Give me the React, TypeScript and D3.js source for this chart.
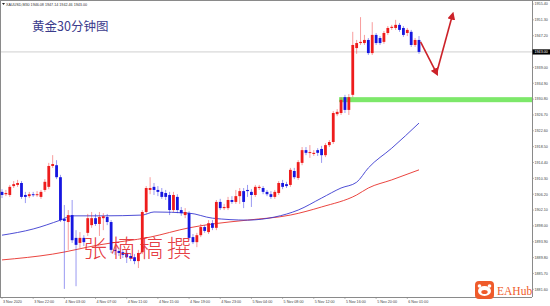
import React from 'react';
import * as d3 from 'd3';

const W = 550;
const H = 306;

// OHLC of XAUUSD M30 bars
const opens = [1906.8,1906.2,1906.0,1908.3,1908.6,1909.1,1906.0,1905.7,1906.2,1906.0,1905.5,1907.3,1908.1,1913.5,1913.7,1910.6,1899.8,1899.0,1900.8,1894.9,1893.6,1894.9,1896.2,1898.2,1900.0,1898.5,1900.0,1900.3,1899.0,1891.8,1891.5,1891.2,1891.0,1890.2,1889.9,1888.9,1891.2,1901.6,1907.3,1908.1,1907.3,1906.8,1906.5,1906.0,1902.1,1905.5,1902.1,1900.8,1901.3,1895.1,1893.8,1895.6,1897.7,1896.4,1898.7,1897.5,1904.2,1902.6,1902.6,1904.7,1904.2,1905.7,1907.0,1907.3,1906.8,1906.0,1907.8,1907.8,1906.8,1906.2,1905.5,1906.5,1909.1,1908.8,1908.6,1912.2,1910.4,1914.3,1917.6,1916.9,1916.6,1917.6,1917.9,1916.3,1918.9,1919.7,1926.9,1927.2,1931.3,1928.0,1931.9,1944.0,1945.3,1945.3,1946.1,1942.7,1947.4,1946.6,1945.6,1947.9,1949.2,1949.2,1950.0,1949.2,1947.9,1948.2,1944.8,1946.1];
const highs = [1907.5,1907.3,1908.6,1909.6,1909.9,1909.6,1906.8,1906.8,1906.8,1907.0,1907.3,1910.1,1914.3,1916.3,1915.0,1911.2,1903.4,1902.1,1904.7,1896.9,1896.4,1895.6,1901.1,1901.6,1901.1,1901.6,1901.3,1901.1,1899.5,1892.5,1892.3,1892.0,1891.8,1891.0,1890.7,1891.8,1902.1,1908.3,1910.6,1909.1,1908.3,1907.8,1907.3,1906.8,1906.8,1906.2,1902.9,1902.6,1901.8,1895.9,1896.2,1898.5,1898.2,1899.5,1899.5,1904.7,1905.0,1903.7,1905.5,1905.7,1907.3,1907.8,1907.8,1908.6,1907.5,1908.6,1908.6,1908.3,1907.3,1907.0,1907.3,1909.6,1909.9,1909.4,1913.0,1913.0,1915.0,1918.4,1918.4,1918.9,1917.6,1918.1,1918.7,1919.4,1920.2,1927.7,1928.2,1931.3,1931.9,1932.1,1948.2,1946.1,1952.0,1947.4,1946.6,1950.7,1947.9,1947.1,1948.4,1949.7,1950.0,1951.3,1950.5,1949.7,1949.2,1948.7,1946.6,1947.1];
const lows = [1905.2,1905.7,1905.5,1907.8,1908.1,1905.0,1903.9,1905.2,1905.5,1905.5,1905.0,1906.8,1907.5,1913.0,1910.1,1899.0,1881.7,1891.8,1893.6,1882.4,1892.3,1892.8,1895.4,1897.5,1898.0,1895.4,1896.9,1898.2,1891.0,1890.5,1890.2,1889.7,1888.4,1888.9,1888.1,1887.1,1890.7,1901.1,1906.2,1906.0,1905.7,1905.0,1904.7,1900.8,1901.6,1901.3,1900.6,1900.0,1894.3,1893.3,1892.5,1895.1,1896.2,1895.9,1896.9,1896.9,1902.1,1902.1,1902.1,1903.7,1903.7,1903.7,1902.6,1905.5,1902.9,1905.5,1907.3,1906.2,1905.7,1905.0,1905.0,1906.0,1907.5,1907.8,1908.1,1910.1,1909.9,1913.7,1916.3,1915.6,1916.1,1916.1,1914.3,1915.8,1918.4,1919.2,1926.4,1926.7,1927.2,1926.7,1931.3,1942.5,1944.8,1944.8,1942.2,1942.2,1944.8,1944.8,1945.1,1947.4,1948.7,1948.7,1948.2,1946.9,1947.1,1944.3,1944.3,1942.5];
const closes = [1906.0,1906.5,1908.1,1908.8,1909.1,1905.5,1905.5,1906.2,1906.0,1906.2,1906.8,1909.4,1913.5,1914.0,1910.6,1899.5,1899.3,1900.8,1894.3,1893.1,1894.9,1893.8,1900.0,1900.0,1898.5,1900.3,1900.5,1899.0,1891.8,1891.5,1891.0,1890.5,1889.9,1889.7,1888.9,1891.0,1901.6,1907.8,1907.8,1907.3,1906.8,1905.5,1905.5,1902.1,1906.0,1902.1,1901.3,1901.6,1894.9,1893.8,1895.6,1897.7,1896.7,1898.7,1897.5,1904.2,1902.6,1902.9,1904.7,1904.2,1905.7,1907.0,1904.2,1907.0,1906.0,1908.1,1908.1,1906.8,1906.2,1905.5,1906.8,1909.1,1908.1,1908.3,1912.5,1910.6,1914.5,1917.6,1916.9,1917.1,1916.9,1916.9,1916.3,1918.9,1919.7,1927.2,1927.5,1930.6,1928.0,1931.3,1944.8,1945.3,1945.6,1946.1,1942.7,1947.4,1945.3,1945.3,1947.9,1949.2,1949.5,1950.0,1948.7,1947.4,1948.7,1944.8,1946.1,1943.0];

// moving averages (read at selected bars)
const blueMaBars = [0, 8, 15, 18, 26, 36, 39, 48, 54, 63, 70, 76, 82, 87, 91, 94, 100, 107];
const blueMaVals = [1895.6, 1897.2, 1899.5, 1900.6, 1900.6, 1900.8, 1901.6, 1901.3, 1900.0, 1899.5, 1900.3, 1902.1, 1905.2, 1907.8, 1909.3, 1913.0, 1918.1, 1924.6];
const redMaBars = [0, 13, 25, 38, 48, 54, 63, 74, 82, 91, 94, 100, 107];
const redMaVals = [1889.2, 1890.7, 1893.1, 1895.1, 1897.5, 1898.5, 1899.5, 1900.8, 1902.9, 1906.0, 1907.8, 1909.9, 1912.5];

const priceTicks = [1955.40, 1951.30, 1947.20, 1943.10, 1939.00, 1934.90, 1930.80, 1926.70, 1922.60, 1918.50, 1914.40, 1910.30, 1906.20, 1902.10, 1898.00, 1893.90, 1889.80, 1885.70, 1881.60];
const timeLabelBars = [0, 8, 16, 24, 32, 40, 48, 56, 64, 72, 80, 88, 96, 104];
const timeLabels = ['3 Nov 2020', '3 Nov 22:00', '4 Nov 03:00', '4 Nov 07:00', '4 Nov 11:00', '4 Nov 15:00', '4 Nov 19:00', '4 Nov 23:00', '5 Nov 04:00', '5 Nov 08:00', '5 Nov 12:00', '5 Nov 16:00', '5 Nov 20:00', '6 Nov 01:00'];

// annotations
const zoneLow = 1930.0;
const zoneHigh = 1931.3;
const zoneStartBar = 86.5;
const arrowBars = [107.4, 111.5, 115.6];
const arrowPrices = [1945.6, 1937.5, 1952.6];

const title = '黄金30分钟图';
const watermark = '张楠稿撰';
const header = 'XAUUSD,M30  1946.08 1947.14 1942.46 1943.00';

const PLOT_R = 532;
const PLOT_B = 297;

export default function App() {
  const n = closes.length;
  const x = d3.scaleLinear().domain([0, n - 1]).range([2, 419]);
  const y = d3.scaleLinear().domain([1881.6, 1955.4]).range([289.3, 4]);
  const bull = '#ee1c1c';
  const bear = '#1616e0';
  const lineGen = d3.line<[number, number]>().x(d => x(d[0])).y(d => y(d[1])).curve(d3.curveMonotoneX);
  const blueLine = lineGen(blueMaBars.map((b, i) => [b, blueMaVals[i]]));
  const redLine = lineGen(redMaBars.map((b, i) => [b, redMaVals[i]]));
  const last = closes[n - 1];
  const arrowPts = arrowBars.map((b, i) => [x(b), y(arrowPrices[i])] as [number, number]);
  const fmt = d3.format('.2f');
  const small = { fontFamily: 'Liberation Sans, Arial, sans-serif', fontSize: 3.7 };

  return (
    <svg width={W} height={H} style={{ position: 'absolute', left: 0, top: 0, background: '#fff' }}>
      <defs>
        <marker id="ah" viewBox="0 0 10 10" refX="6" refY="5" markerWidth="5" markerHeight="5" orient="auto">
          <path d="M0,0 L10,5 L0,10 z" fill="#cc2229" />
        </marker>
      </defs>
      <rect x={0} y={0} width={W} height={H} fill="#fff" />
      {/* frame */}
      <line x1={0} x2={W} y1={0.5} y2={0.5} stroke="#8a8a8a" />
      <line x1={0.5} x2={0.5} y1={0} y2={PLOT_B} stroke="#8a8a8a" />
      {/* header */}
      <path d="M2,3 L5,3 L3.5,5 z" fill="#222" />
      <text x={6} y={5.5} {...small} fill="#333">{header}</text>
      {/* title */}
      <text x={32} y={31} fontFamily="Noto Sans CJK SC" fontSize={12.5} fill="#3b3b8c">{title}</text>
      {/* current price line */}
      <line x1={1} x2={PLOT_R} y1={y(last)} y2={y(last)} stroke="#cfcfcf" strokeWidth={1} />
      {/* support zone */}
      <rect x={x(zoneStartBar)} y={y(zoneHigh)} width={PLOT_R - x(zoneStartBar)} height={y(zoneLow) - y(zoneHigh)} fill="#7de86a" />
      {/* moving averages */}
      <path d={redLine || ''} fill="none" stroke="#e8302a" strokeWidth={0.9} />
      <path d={blueLine || ''} fill="none" stroke="#3a3ad0" strokeWidth={0.9} />
      {/* candles */}
      {closes.map((c, i) => {
        const o = opens[i];
        const up = c >= o;
        const col = up ? bull : bear;
        const top = y(Math.max(o, c));
        const bot = y(Math.min(o, c));
        return (
          <g key={i}>
            <line x1={x(i)} x2={x(i)} y1={y(highs[i])} y2={y(lows[i])} stroke={col} strokeOpacity={0.55} strokeWidth={0.8} />
            <rect x={x(i) - 1.4} y={top} width={2.8} height={Math.max(bot - top, 1)} fill={col} />
          </g>
        );
      })}
      {/* watermark */}
      <text x={83} y={257} fontFamily="Noto Sans CJK SC" fontWeight={300} fontSize={24} letterSpacing={4} fill="#e3262b" fillOpacity={0.9}>{watermark}</text>
      {/* arrows */}
      <path d={d3.line()(arrowPts.slice(0, 2)) || ''} fill="none" stroke="#cc2229" strokeWidth={1.6} markerEnd="url(#ah)" />
      <path d={d3.line()(arrowPts.slice(1, 3)) || ''} fill="none" stroke="#cc2229" strokeWidth={1.6} markerEnd="url(#ah)" />
      {/* axes */}
      <line x1={0} x2={PLOT_R} y1={PLOT_B + 0.5} y2={PLOT_B + 0.5} stroke="#8a8a8a" />
      <line x1={PLOT_R + 0.5} x2={PLOT_R + 0.5} y1={0} y2={PLOT_B} stroke="#8a8a8a" />
      {priceTicks.map((p, i) => (
        <g key={'p' + i}>
          <line x1={PLOT_R} x2={PLOT_R + 2} y1={y(p)} y2={y(p)} stroke="#8a8a8a" strokeWidth={0.6} />
          <text x={PLOT_R + 2.5} y={y(p) + 1.3} {...small} fill="#444">{fmt(p)}</text>
        </g>
      ))}
      <rect x={PLOT_R + 0.5} y={y(last) - 2.6} width={W - PLOT_R} height={5.2} fill="#000" />
      <text x={PLOT_R + 2.5} y={y(last) + 1.3} {...small} fill="#fff">{fmt(last)}</text>
      {timeLabelBars.map((b, i) => (
        <g key={'t' + i}>
          <line x1={x(b)} x2={x(b)} y1={PLOT_B} y2={PLOT_B + 2} stroke="#8a8a8a" strokeWidth={0.6} />
          <text x={x(b) + 1} y={PLOT_B + 6} {...small} fill="#444">{timeLabels[i]}</text>
        </g>
      ))}
      {/* EAHub logo */}
      <rect x={475} y={281} width={19} height={18} rx={4} fill="#ef5b2b" />
      <circle cx={479.5} cy={286} r={1.8} fill="#fff" />
      <circle cx={489.5} cy={286} r={1.8} fill="#fff" />
      <ellipse cx={484.5} cy={291} rx={6.5} ry={5} fill="#fff" />
      <ellipse cx={484.5} cy={292} rx={3.2} ry={2} fill="#ef5b2b" />
      <text x={497} y={295} fontFamily="Liberation Serif" fontSize={11.5} fill="#ef5b2b">EAHub</text>
    </svg>
  );
}
